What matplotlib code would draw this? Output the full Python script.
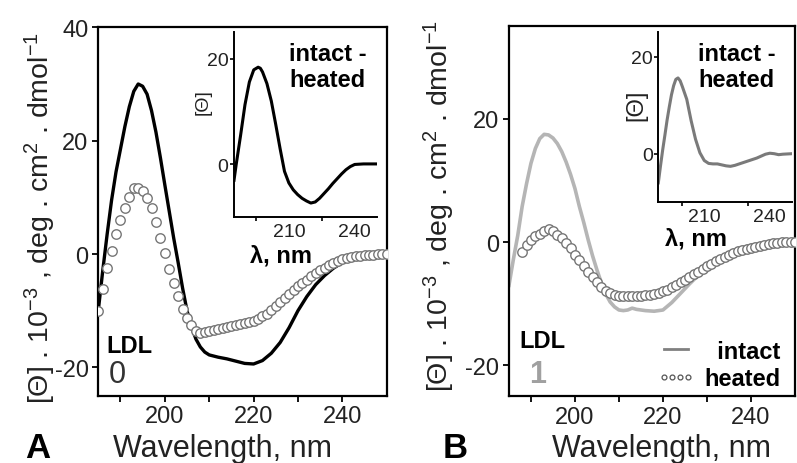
import numpy as np
import matplotlib
matplotlib.use('Agg')
import matplotlib.pyplot as plt
from matplotlib.lines import Line2D

plt.rcParams['font.family'] = ['Liberation Sans', 'DejaVu Sans']
plt.rcParams['mathtext.fontset'] = 'custom'
plt.rcParams['mathtext.rm'] = 'Liberation Sans'
plt.rcParams['mathtext.it'] = 'Liberation Sans:italic'
plt.rcParams['mathtext.bf'] = 'Liberation Sans:bold'
plt.rcParams['axes.unicode_minus'] = False

# ---- data ----
# panel A, intact LDL (solid black)
wl_a_intact = [185, 186, 187, 188, 189, 190, 191, 192, 193, 194, 195, 196, 197, 198, 199,
               200, 201, 202, 203, 204, 205, 206, 207, 208, 209, 210, 212, 214, 216, 218,
               220, 222, 224, 226, 228, 230, 232, 234, 236, 238, 240, 242, 244, 246, 248, 250]
cd_a_intact = [-10.0, -3.0, 3.5, 9.5, 14.5, 18.5, 22.5, 26.0, 28.7, 30.0, 29.6, 28.2, 25.3, 21.5, 17.0,
               12.2, 7.5, 2.8, -1.5, -6.0, -10.0, -12.8, -15.0, -16.4, -17.3, -17.8, -18.2, -18.5, -18.9, -19.3,
               -19.4, -18.8, -17.5, -15.6, -13.0, -10.0, -7.5, -5.4, -3.8, -2.5, -1.5, -0.8, -0.3, -0.1, 0.0, 0.0]

# panel A, heated LDL (open circles, 1 nm steps from 185 nm)
wl_a_heated = np.arange(185, 251)
cd_a_heated = [-10.1, -6.1, -2.4, 0.6, 3.5, 6.0, 8.2, 10.0, 11.6, 11.7,
               11.2, 9.9, 8.1, 5.6, 2.9, 0.1, -2.6, -5.2, -7.4, -9.7,
               -11.2, -12.6, -13.5, -13.9, -13.8, -13.6, -13.4, -13.2, -13.0, -12.9,
               -12.7, -12.6, -12.4, -12.2, -12.0, -11.8, -11.4, -11.0, -10.5, -9.9,
               -9.2, -8.5, -7.8, -7.1, -6.4, -5.7, -5.1, -4.5, -3.9, -3.3,
               -2.8, -2.4, -2.0, -1.6, -1.2, -0.9, -0.7, -0.5, -0.4, -0.3,
               -0.2, -0.1, -0.1, 0.0, 0.0, 0.0]

# panel A inset, intact - heated
wl_a_diff = [185, 186, 188, 190, 192, 194, 196, 197, 198, 200, 202, 204, 206, 208, 210, 212,
             214, 216, 218, 220, 222, 224, 226, 228, 230, 232, 234, 236, 238, 240, 244, 250]
cd_a_diff = [-3.0, 0.0, 5.5, 11.3, 15.6, 17.9, 18.4, 18.2, 17.5, 15.3, 12.0, 7.6, 3.0, -1.3, -3.5, -4.8,
             -5.7, -6.4, -6.9, -7.3, -7.1, -6.4, -5.5, -4.6, -3.6, -2.7, -1.8, -1.0, -0.4, 0.0, 0.1, 0.1]

# panel B, intact LDL (solid grey)
wl_b_intact = [185, 186, 187, 188, 189, 190, 191, 192, 193, 194, 195, 196, 197, 198, 199,
               200, 201, 202, 203, 204, 205, 206, 207, 208, 209, 210, 211, 212, 213, 214,
               216, 218, 220, 222, 224, 226, 228, 230, 232, 234, 236, 238, 240, 242, 244,
               246, 248, 250]
cd_b_intact = [-7.0, -2.8, 1.1, 5.8, 9.5, 12.8, 15.2, 16.8, 17.5, 17.4, 16.9, 16.0, 14.7, 13.0, 11.0,
               8.7, 5.8, 3.2, 0.4, -2.2, -4.5, -6.6, -8.4, -9.7, -10.5, -11.0, -11.1, -11.0, -10.7, -10.9,
               -11.1, -11.2, -11.0, -9.8, -8.3, -6.8, -5.4, -4.2, -3.1, -2.2, -1.5, -0.9, -0.5, -0.3, -0.2,
               -0.1, 0.0, 0.0]

# panel B, heated LDL (open circles, 1 nm steps from 188 nm)
wl_b_heated = np.arange(188, 251)
cd_b_heated = [-1.6, -0.5, 0.4, 1.0, 1.4, 1.8, 2.1, 1.8, 1.2, 0.6,
               -0.1, -1.0, -2.0, -2.9, -3.9, -4.8, -5.7, -6.5, -7.3, -7.9,
               -8.3, -8.6, -8.7, -8.8, -8.8, -8.8, -8.7, -8.7, -8.6, -8.5,
               -8.4, -8.2, -8.0, -7.7, -7.3, -6.9, -6.5, -6.1, -5.6, -5.2,
               -4.8, -4.3, -3.9, -3.5, -3.1, -2.7, -2.4, -2.1, -1.8, -1.5,
               -1.3, -1.1, -0.9, -0.7, -0.6, -0.4, -0.3, -0.2, -0.1, 0.0,
               0.0, 0.0, 0.0]

# panel B inset, intact - heated
wl_b_diff = [189, 190, 191, 192, 193, 194, 195, 196, 197, 198, 199, 200, 202, 204, 206, 208, 210, 212,
             214, 216, 218, 220, 222, 224, 226, 228, 230, 232, 234, 236, 238, 240, 242, 244, 246, 250]
cd_b_diff = [-6.0, -2.5, 0.8, 3.8, 6.9, 9.6, 12.1, 14.0, 15.3, 15.6, 15.0, 13.8, 11.2, 6.8, 3.0, 0.2, -1.4, -2.0,
             -2.1, -2.1, -2.3, -2.5, -2.6, -2.4, -2.1, -1.8, -1.5, -1.2, -0.9, -0.5, -0.1, 0.1, 0.0, -0.2, -0.1, 0.0]

ylabel = r'[Θ] . 10$^{-3}$ , deg . cm$^{2}$ . dmol$^{-1}$'
txt_col = '#222222'
circ_col = '#767676'


def style_main(ax, yticks, ylim):
    ax.set_xlim(185, 250)
    ax.set_ylim(*ylim)
    ax.set_xticks([200, 220, 240])
    ax.set_xticks([190, 210, 230], minor=True)
    ax.set_yticks(yticks)
    ax.tick_params(which='both', direction='out', length=4, width=1.3, colors='black',
                   labelcolor=txt_col, labelsize=17, pad=3)
    for s in ax.spines.values():
        s.set_linewidth(1.6)


def style_inset(ax, xlim, minor, ysize):
    ax.set_xlim(*xlim)
    ax.set_ylim(-10, 25)
    ax.set_xticks([210, 240])
    ax.set_xticks(minor, minor=True)
    ax.set_yticks([0, 20])
    ax.spines['top'].set_visible(False)
    ax.spines['right'].set_visible(False)
    for s in ax.spines.values():
        s.set_linewidth(1.4)
    ax.tick_params(axis='x', which='major', length=0, labelsize=14, labelcolor=txt_col, pad=4)
    ax.tick_params(axis='x', which='minor', length=3, width=1.2)
    ax.tick_params(axis='y', length=3, width=1.2, labelsize=14, labelcolor=txt_col, pad=1)
    ax.set_ylabel('[Θ]', fontsize=ysize, color=txt_col)
    ax.set_xlabel('λ, nm', fontsize=17, fontweight='bold', labelpad=0)
    ax.patch.set_alpha(0)


fig = plt.figure(figsize=(7.97, 4.64), dpi=100)

# ---------------- panel A ----------------
ax_a = fig.add_axes([0.1233, 0.145, 0.3619, 0.794])
ax_a.plot(wl_a_intact, cd_a_intact, color='black', lw=2.4, zorder=2)
ax_a.plot(wl_a_heated, cd_a_heated, 'o', ms=6.8, mfc='white', mec=circ_col, mew=1.0, zorder=3)
style_main(ax_a, [-20, 0, 20, 40], (-25, 40))
ax_a.set_ylabel(ylabel, fontsize=20.5, color=txt_col)
ax_a.yaxis.set_label_coords(-0.14, 0.485)
ax_a.set_xlabel('Wavelength, nm', fontsize=22, color=txt_col)
ax_a.xaxis.set_label_coords(0.432, -0.1)
ax_a.text(0.027, 0.119, 'LDL', transform=ax_a.transAxes, fontsize=17, fontweight='bold')
ax_a.text(0.035, 0.037, '0', transform=ax_a.transAxes, fontsize=22, color='#333333')

ins_a = fig.add_axes([0.2936, 0.5295, 0.179, 0.3987])
ins_a.plot(wl_a_diff, cd_a_diff, color='black', lw=2.2)
style_inset(ins_a, (185, 250), [195, 225], 14)
ins_a.yaxis.set_label_coords(-0.16, 0.63)
ins_a.xaxis.set_label_coords(0.33, -0.14)
ins_a.text(0.385, 0.95, 'intact -\nheated', transform=ins_a.transAxes, fontsize=17,
           fontweight='bold', va='top', ha='left', linespacing=1.2)

fig.text(25 / 797, 0.012, 'A', fontsize=25, fontweight='bold', va='baseline')

# ---------------- panel B ----------------
ax_b = fig.add_axes([0.6386, 0.1438, 0.3588, 0.797])
ax_b.plot(wl_b_intact, cd_b_intact, color='#b5b5b5', lw=2.6, zorder=2)
ax_b.plot(wl_b_heated, cd_b_heated, 'o', ms=6.8, mfc='white', mec=circ_col, mew=1.0, zorder=3)
style_main(ax_b, [-20, 0, 20], (-25, 35))
ax_b.set_ylabel(ylabel, fontsize=20.5, color=txt_col)
ax_b.yaxis.set_label_coords(-0.18, 0.517)
ax_b.set_xlabel('Wavelength, nm', fontsize=22, color=txt_col)
ax_b.xaxis.set_label_coords(0.535, -0.1)
ax_b.text(0.038, 0.133, 'LDL', transform=ax_b.transAxes, fontsize=17, fontweight='bold')
ax_b.text(0.07, 0.039, '1', transform=ax_b.transAxes, fontsize=22, fontweight='bold', color='#a0a0a0')

handles = [Line2D([], [], color='#808080', lw=2.0),
           Line2D([], [], ls='none', marker='o', ms=3.5, mfc='white', mec='#555555', mew=0.9)]
ax_b.legend(handles, ['  intact', 'heated'], loc='lower right', bbox_to_anchor=(1.0, -0.022),
            frameon=False, numpoints=4, handlelength=1.6, handletextpad=0.4, labelspacing=0.2,
            borderaxespad=0.2, prop={'weight': 'bold', 'size': 17})

ins_b = fig.add_axes([0.826, 0.5619, 0.1674, 0.3664])
ins_b.plot(wl_b_diff, cd_b_diff, color='#7a7a7a', lw=2.2)
style_inset(ins_b, (189, 250), [200, 230], 17)
ins_b.yaxis.set_label_coords(-0.085, 0.578)
ins_b.xaxis.set_label_coords(0.28, -0.14)
ins_b.text(0.30, 0.945, 'intact -\nheated', transform=ins_b.transAxes, fontsize=17,
           fontweight='bold', va='top', ha='left', linespacing=1.2)

fig.text(443 / 797, 0.012, 'B', fontsize=25, fontweight='bold', va='baseline')

fig.savefig('out.png', dpi=100)
